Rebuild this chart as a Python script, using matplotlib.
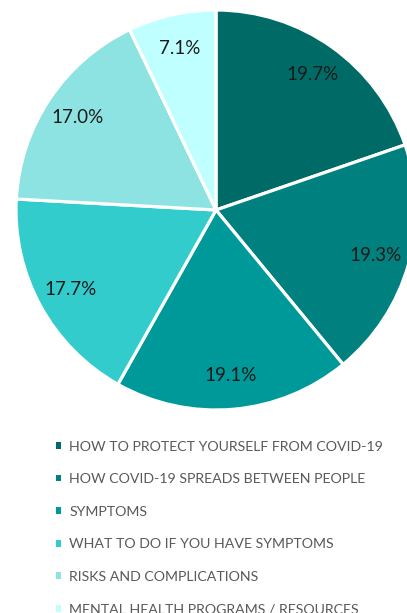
import matplotlib
matplotlib.use("Agg")
import matplotlib.pyplot as plt
from matplotlib.patches import Patch

# topic shares (%), clockwise from 12 o'clock
topics = ["HOW TO PROTECT YOURSELF FROM COVID-19",
          "HOW COVID-19 SPREADS BETWEEN PEOPLE",
          "SYMPTOMS",
          "WHAT TO DO IF YOU HAVE SYMPTOMS",
          "RISKS AND COMPLICATIONS",
          "MENTAL HEALTH PROGRAMS / RESOURCES"]
shares = [19.7, 19.3, 19.1, 17.7, 17.0, 7.1]
colors = ["#006b66", "#00807f", "#009999", "#33cccc", "#8ce3e1", "#c0ffff"]

plt.rcParams['font.family'] = ['Lato', 'DejaVu Sans']

W, H = 407, 613
fig = plt.figure(figsize=(W/100, H/100), dpi=100)

# pie: centre (216,210) px, radius 200 px
cx, cy, r = 216, 210, 200
ax = fig.add_axes([(cx-r)/W, 1-(cy+r)/H, 2*r/W, 2*r/H])
wedges, texts = ax.pie(shares, colors=colors, startangle=90, counterclock=False,
                       wedgeprops=dict(edgecolor="white", linewidth=2.3),
                       labels=["%.1f%%" % v for v in shares], labeldistance=0.83,
                       textprops=dict(fontsize=13.5, color="#1a1a1a"),
                       radius=1.0)
for t in texts:
    t.set_ha("center")
    t.set_va("center")
ax.set_xlim(-1, 1)
ax.set_ylim(-1, 1)
ax.set_aspect("equal")
ax.axis("off")

handles = [Patch(facecolor=c, edgecolor="none") for c in colors]
leg = fig.legend(handles, topics, loc="upper left",
                 bbox_to_anchor=(50/W, 1-435/H), frameon=False,
                 fontsize=10.2, handlelength=0.35, handleheight=0.35,
                 handletextpad=0.6, labelspacing=1.45, borderaxespad=0)
for t in leg.get_texts():
    t.set_color("#595959")

fig.savefig("out.png", dpi=100)
